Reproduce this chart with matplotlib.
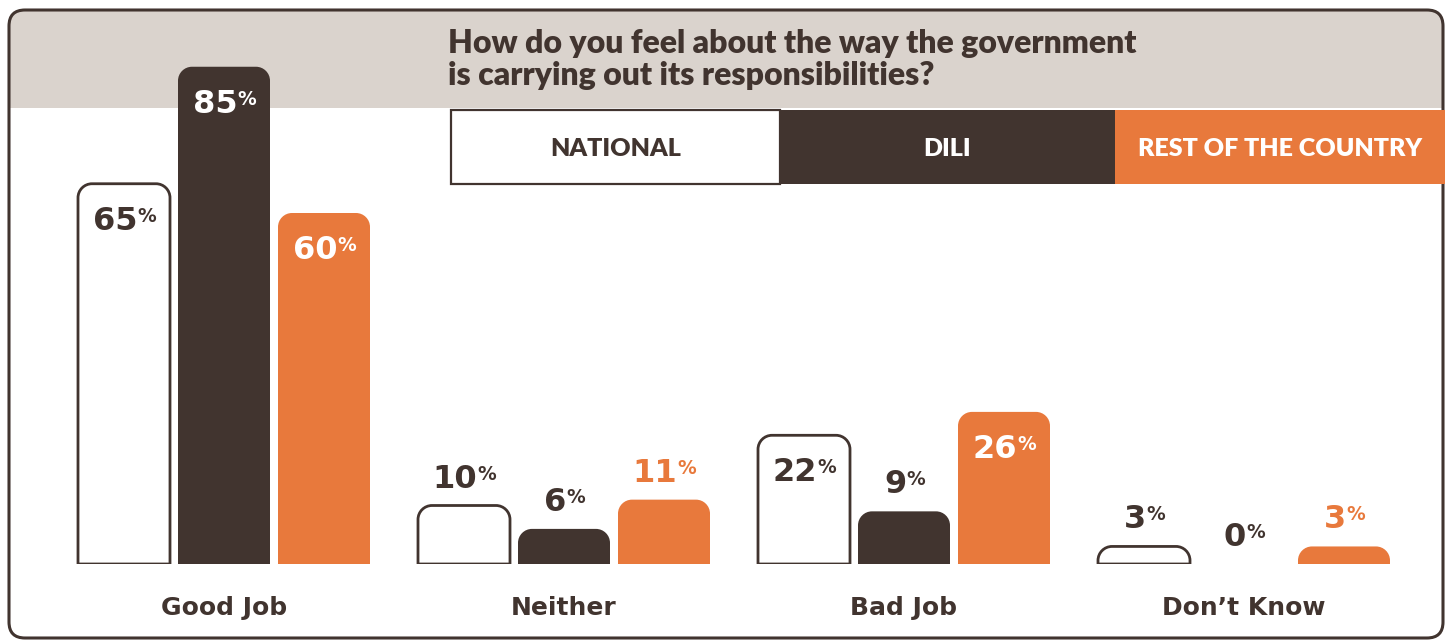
import matplotlib
matplotlib.use("Agg")
import matplotlib.pyplot as plt
from matplotlib.patches import FancyBboxPatch, Rectangle, PathPatch
from matplotlib.path import Path
import numpy as np

# data
categories = ["Good Job", "Neither", "Bad Job", "Don\u2019t Know"]
series_names = ["NATIONAL", "DILI", "REST OF THE COUNTRY"]
national = [65, 10, 22, 3]
dili = [85, 6, 9, 0]
rest = [60, 11, 26, 3]

DARK = "#41342f"
ORANGE = "#e8793c"
GRAY = "#dad3cd"
FONT = ["Lato", "DejaVu Sans"]
NUMFONT = ["DejaVu Sans"]

W, H = 1445, 641
fig = plt.figure(figsize=(W / 100, H / 100), dpi=100)

# background / decoration axes in pixel units
bg = fig.add_axes([0, 0, 1, 1], zorder=0)
bg.set_xlim(0, W)
bg.set_ylim(H, 0)
bg.axis("off")

bg.add_patch(FancyBboxPatch((9, 10), 1434, 130, boxstyle="round,pad=0,rounding_size=16",
                            fc=GRAY, ec="none"))
bg.add_patch(Rectangle((9, 108), 1434, 515, fc="white", ec="none"))
bg.add_patch(FancyBboxPatch((9, 10), 1434, 628, boxstyle="round,pad=0,rounding_size=16",
                            fc="none", ec=DARK, lw=2.2))

bg.text(448, 44, "How do you feel about the way the government", fontsize=23,
        fontweight="heavy", color=DARK, family=FONT, va="center", ha="left")
bg.text(448, 76, "is carrying out its responsibilities?", fontsize=23,
        fontweight="heavy", color=DARK, family=FONT, va="center", ha="left")

# legend boxes
leg_boxes = [(451, 780), (780, 1115), (1115, 1445)]
leg_fc = ["white", DARK, ORANGE]
leg_tc = [DARK, "white", "white"]
for (x0, x1), name, fc, tc in zip(leg_boxes, series_names, leg_fc, leg_tc):
    bg.add_patch(Rectangle((x0, 110), x1 - x0, 74, fc=fc,
                           ec=DARK if fc == "white" else "none", lw=1.6))
    bg.text((x0 + x1) / 2, 149, name, fontsize=18, fontweight="heavy", color=tc,
            family=FONT, ha="center", va="center")

# bar axes: 0..100 %, baseline at y=564 px, 5.85 px per %
px_per_pct = 5.85
base_px = 564
ax = fig.add_axes([0, (H - base_px) / H, 1, 100 * px_per_pct / H], zorder=1)
ax.set_facecolor("none")
unit = 340.0
ax.set_xlim(-224 / unit, (W - 224) / unit)
ax.set_ylim(0, 100)
for s in ax.spines.values():
    s.set_visible(False)
ax.set_yticks([])

rx = 14 / unit
ry = 14 / px_per_pct
k = 0.5523


def rounded_bar(x0, w, h, **kw):
    if h <= 0:
        return
    r_y = min(ry, h)
    r_x = rx
    verts = [
        (x0, 0), (x0, h - r_y),
        (x0, h - r_y + k * r_y), (x0 + r_x - k * r_x, h), (x0 + r_x, h),
        (x0 + w - r_x, h),
        (x0 + w - r_x + k * r_x, h), (x0 + w, h - r_y + k * r_y), (x0 + w, h - r_y),
        (x0 + w, 0), (x0, 0),
    ]
    codes = [Path.MOVETO, Path.LINETO,
             Path.CURVE4, Path.CURVE4, Path.CURVE4,
             Path.LINETO,
             Path.CURVE4, Path.CURVE4, Path.CURVE4,
             Path.LINETO, Path.CLOSEPOLY]
    ax.add_patch(PathPatch(Path(verts, codes), **kw))


x = np.arange(len(categories))
bw = 92 / unit
step = 100 / unit
styles = [
    dict(fc="white", ec=DARK, lw=2.0),
    dict(fc=DARK, ec="none"),
    dict(fc=ORANGE, ec="none"),
]
inside_col = [DARK, "white", "white"]
above_col = [DARK, DARK, ORANGE]

for i, (vals, st) in enumerate(zip([national, dili, rest], styles)):
    for xi, v in zip(x, vals):
        cx = xi + (i - 1) * step
        rounded_bar(cx - bw / 2, bw, v, **st)
        inside = v >= 20
        c = inside_col[i] if inside else above_col[i]
        if inside:
            t = ax.annotate(str(v), (cx, v), xytext=(-9, -22), textcoords="offset pixels",
                            ha="center", va="top", fontsize=23, fontweight="bold",
                            color=c, family=NUMFONT)
        else:
            t = ax.annotate(str(v), (cx, v), xytext=(-9, 18), textcoords="offset pixels",
                            ha="center", va="baseline", fontsize=23, fontweight="bold",
                            color=c, family=NUMFONT)
        ax.annotate("%", xy=(1, 1), xycoords=t, xytext=(0, -1), textcoords="offset pixels",
                    ha="left", va="top", fontsize=13.5, fontweight="bold", color=c,
                    family=NUMFONT)

ax.set_xticks(x)
ax.set_xticklabels(categories, fontsize=18, fontweight="bold", color=DARK, family=NUMFONT)
ax.tick_params(axis="x", length=0, pad=23)

fig.savefig("out.png", dpi=100)
